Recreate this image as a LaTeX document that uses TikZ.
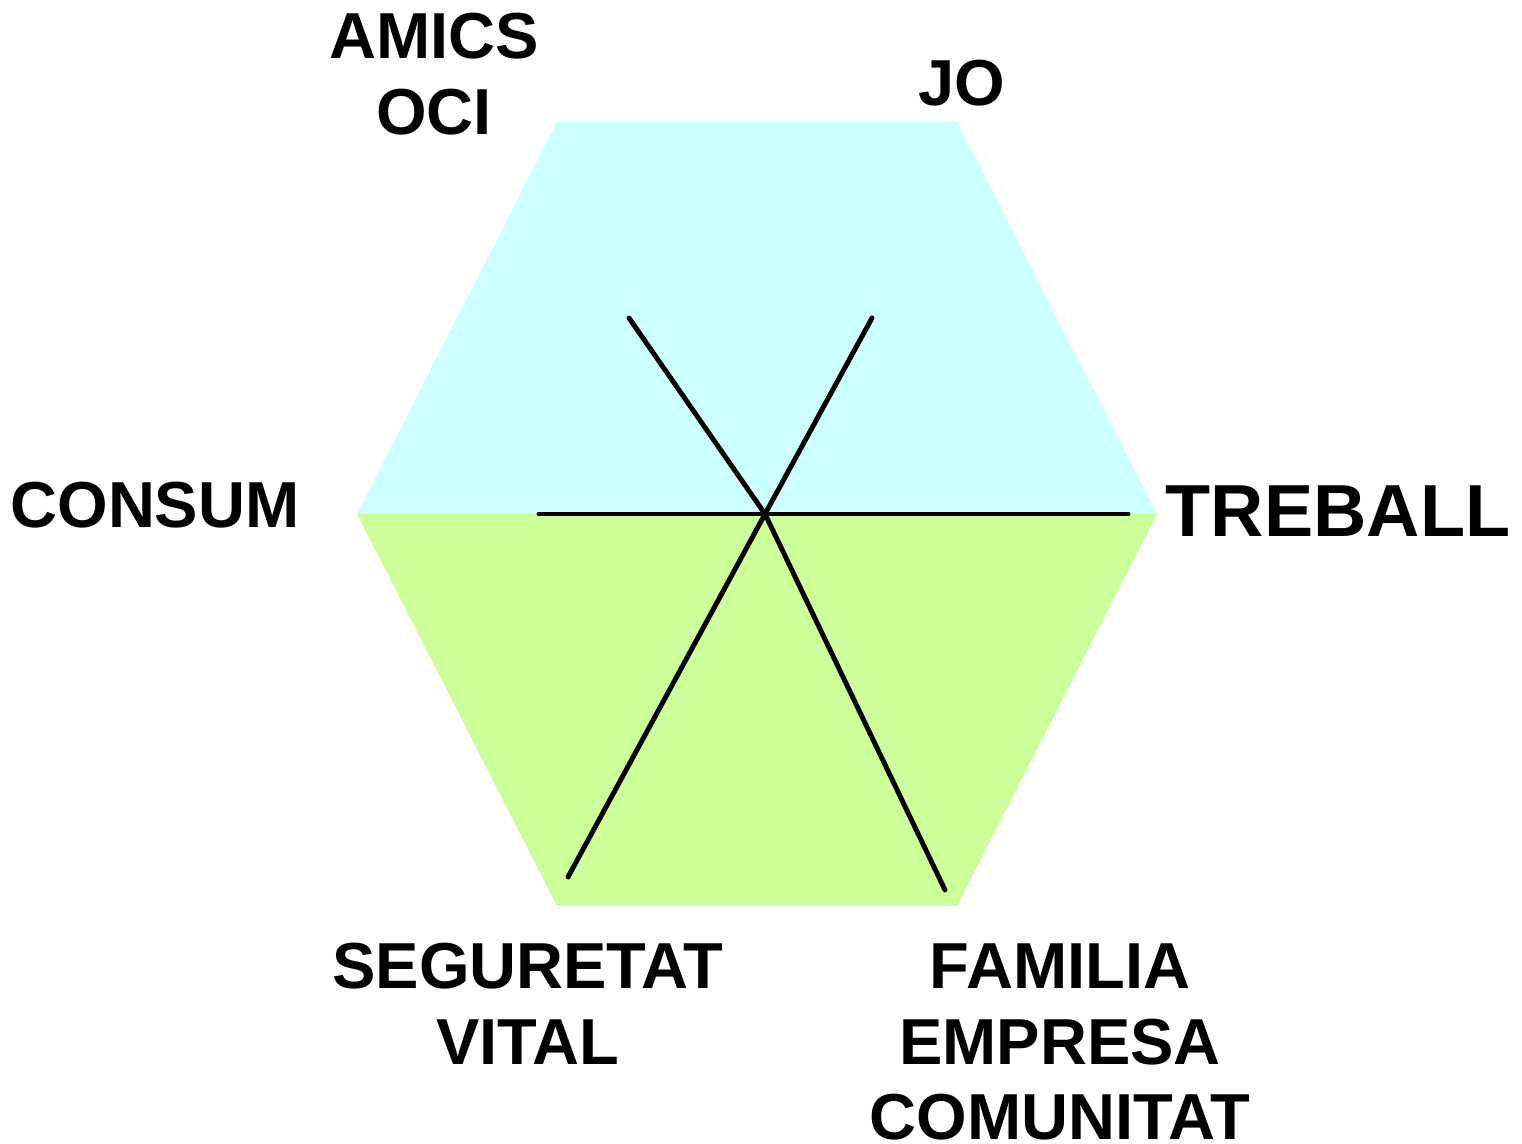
\documentclass[tikz,border=0pt]{standalone}
\usepackage{fontspec}
\setmainfont{Liberation Sans}
\usepackage{tikz}

\definecolor{topcyan}{HTML}{CCFFFF}
\definecolor{botgreen}{HTML}{CCFF99}

\begin{document}
\begin{tikzpicture}[
    axis/.style={line width=1.4pt, line cap=round},
    lbl/.style={font=\bfseries\fontsize{18.5}{21.5}\selectfont, align=center}
  ]
  \useasboundingbox (0,0) rectangle (15.22,11.44);
  % two halves of the hexagon
  \fill[topcyan] (3.57,6.30) -- (5.57,10.22) -- (9.57,10.22) -- (11.57,6.30) -- cycle;
  \fill[botgreen] (3.57,6.30) -- (5.57,2.38) -- (9.57,2.38) -- (11.57,6.30) -- cycle;
  % the axes
  \coordinate (c) at (7.65,6.30);
  \coordinate (amics) at (6.29,8.26);
  \coordinate (jo) at (8.72,8.26);
  \coordinate (consum) at (5.39,6.30);
  \coordinate (treball) at (11.28,6.30);
  \coordinate (seg) at (5.68,2.67);
  \coordinate (fam) at (9.45,2.54);
  \draw[axis] (c) -- (amics);
  \draw[axis] (c) -- (jo);
  \draw[axis] (c) -- (consum);
  \draw[axis] (c) -- (treball);
  \draw[axis] (c) -- (seg);
  \draw[axis] (c) -- (fam);
  % labels
  \node[lbl] (lamics) at (4.34,10.70) {AMICS\\OCI};
  \node[lbl] (ljo) at (9.62,10.61) {JO};
  \node[lbl] (lconsum) at (1.55,6.39) {CONSUM};
  \node[lbl, font=\bfseries\fontsize{21}{25}\selectfont] (ltreball) at (13.38,6.33) {TREBALL};
  \node[lbl] (lseg) at (5.28,1.40) {SEGURETAT\\VITAL};
  \node[lbl] (lfam) at (10.60,1.02) {FAMILIA\\EMPRESA\\COMUNITAT};
\end{tikzpicture}
\end{document}
